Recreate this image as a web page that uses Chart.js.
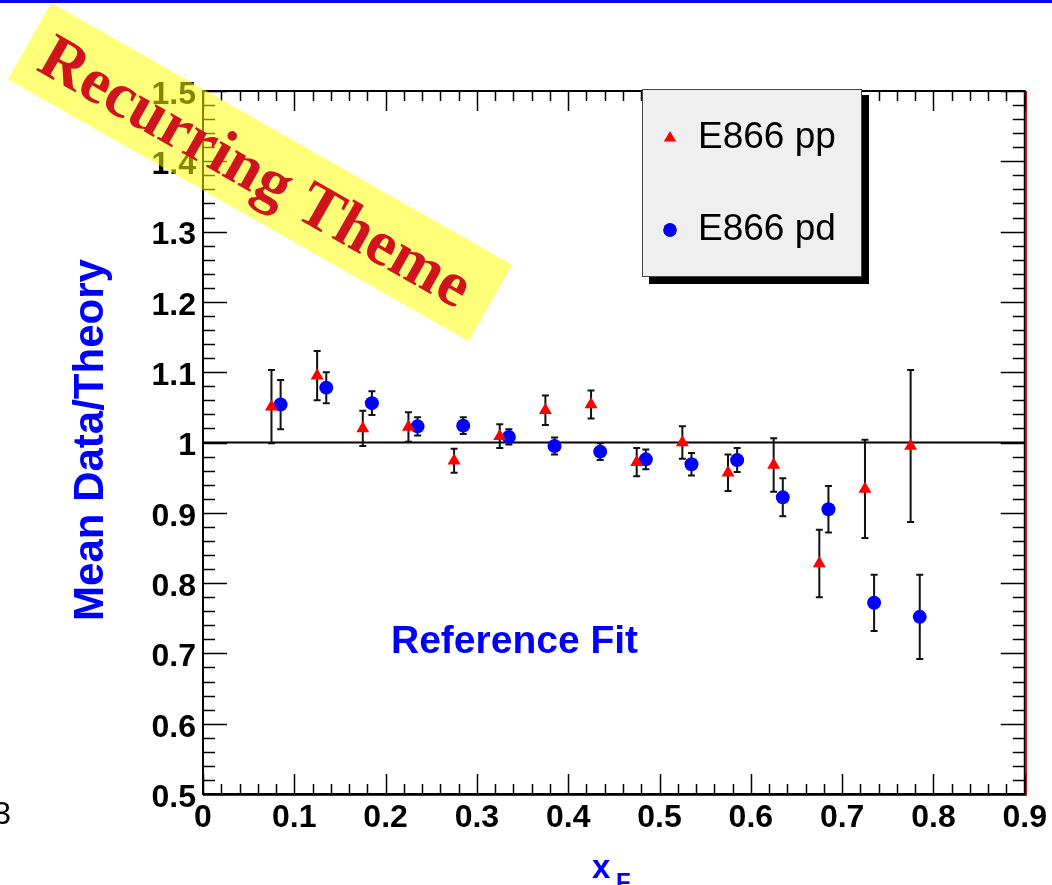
<!DOCTYPE html>
<html>
<head>
<meta charset="utf-8">
<title>Mean Data/Theory vs xF</title>
<script src="https://cdn.jsdelivr.net/npm/chart.js@4.4.1/dist/chart.umd.min.js"></script>
<style>
  html, body { margin: 0; padding: 0; background: #fff; }
  #wrap { width: 1052px; height: 885px; }
</style>
</head>
<body>
<div id="wrap"><canvas id="ratioChart" width="1052" height="885"></canvas></div>
<script>
// xF bin centres; the pd points sit a little to the right of the pp ones
const xfPP = [0.075, 0.125, 0.175, 0.225, 0.275, 0.325, 0.375, 0.425, 0.475, 0.525, 0.575, 0.625, 0.675, 0.725, 0.775];
const xfPD = [0.085, 0.135, 0.185, 0.235, 0.285, 0.335, 0.385, 0.435, 0.485, 0.535, 0.585, 0.635, 0.685, 0.735, 0.785];

// mean data / theory and their errors
const ratioPP = [1.051, 1.095, 1.020, 1.022, 0.974, 1.009, 1.046, 1.054, 0.972, 1.000, 0.957, 0.968, 0.828, 0.934, 0.995];
const errPP   = [0.052, 0.035, 0.025, 0.021, 0.017, 0.017, 0.021, 0.020, 0.020, 0.023, 0.026, 0.038, 0.048, 0.070, 0.108];
const ratioPD = [1.054, 1.078, 1.056, 1.023, 1.024, 1.008, 0.995, 0.987, 0.976, 0.969, 0.975, 0.922, 0.905, 0.772, 0.752];
const errPD   = [0.035, 0.022, 0.017, 0.013, 0.012, 0.011, 0.012, 0.012, 0.014, 0.016, 0.017, 0.027, 0.033, 0.040, 0.060];

const xTickLabels = ['0', '0.1', '0.2', '0.3', '0.4', '0.5', '0.6', '0.7', '0.8', '0.9'];
const yTickLabels = ['0.5', '0.6', '0.7', '0.8', '0.9', '1', '1.1', '1.2', '1.3', '1.4', '1.5'];

const SANS = '"Liberation Sans", Arial, Helvetica, sans-serif';
const SERIF = '"Liberation Serif", "Times New Roman", serif';
const BLUE = '#0000ff';

// page background, blue rule at the top, stray page number at the left
const pageDecor = {
  id: 'pageDecor',
  beforeDraw(chart) {
    const c = chart.ctx;
    c.save();
    c.fillStyle = '#fff';
    c.fillRect(0, 0, chart.width, chart.height);
    c.fillStyle = '#0a0ae0';
    c.fillRect(0, 0, chart.width, 3);
    c.fillStyle = '#000';
    c.font = '32px ' + SANS;
    c.textAlign = 'right';
    c.textBaseline = 'alphabetic';
    c.fillText('3', 11, 824);
    c.restore();
  }
};

// ROOT style frame: inward ticks on all four sides, reference line at 1
const frameTicks = {
  id: 'frameTicks',
  beforeDatasetsDraw(chart) {
    const c = chart.ctx;
    const { left, right, top, bottom } = chart.chartArea;
    const xs = chart.scales.x, ys = chart.scales.y;
    c.save();
    c.strokeStyle = '#000';
    c.lineWidth = 1.5;
    c.beginPath();
    for (let i = 0; i <= 45; i++) {
      const px = Math.round(xs.getPixelForValue(i * 0.02)) + 0.5;
      const len = i % 5 === 0 ? 20 : 10;
      c.moveTo(px, bottom); c.lineTo(px, bottom - len);
      c.moveTo(px, top); c.lineTo(px, top + len);
    }
    for (let i = 0; i <= 50; i++) {
      const py = Math.round(ys.getPixelForValue(0.5 + i * 0.02)) + 0.5;
      const len = i % 5 === 0 ? 24 : 12;
      c.moveTo(left, py); c.lineTo(left + len, py);
      c.moveTo(right, py); c.lineTo(right - len, py);
    }
    c.stroke();

    // frame
    c.lineWidth = 2;
    c.strokeRect(left, top, right - left, bottom - top);
    c.strokeStyle = '#c00000';
    c.lineWidth = 1.2;
    c.beginPath();
    c.moveTo(left, bottom + 1.5); c.lineTo(right + 1.5, bottom + 1.5);
    c.lineTo(right + 1.5, top);
    c.stroke();

    // line at data/theory = 1
    const y1 = ys.getPixelForValue(1);
    c.strokeStyle = '#000';
    c.lineWidth = 2;
    c.beginPath();
    c.moveTo(left, y1); c.lineTo(right, y1);
    c.stroke();

    // vertical error bars with small caps
    c.strokeStyle = '#111';
    c.lineWidth = 2;
    chart.data.datasets.forEach(ds => {
      ds.data.forEach((p, i) => {
        const px = xs.getPixelForValue(p.x);
        const hi = ys.getPixelForValue(p.y + ds.errors[i]);
        const lo = ys.getPixelForValue(p.y - ds.errors[i]);
        c.beginPath();
        c.moveTo(px, hi); c.lineTo(px, lo);
        c.moveTo(px - 3.5, hi); c.lineTo(px + 3.5, hi);
        c.moveTo(px - 3.5, lo); c.lineTo(px + 3.5, lo);
        c.stroke();
      });
    });
    c.restore();
  }
};

// legend box, axis titles, caption and the diagonal banner
const overlay = {
  id: 'overlay',
  afterDraw(chart) {
    const c = chart.ctx;
    c.save();

    // legend with drop shadow
    c.fillStyle = '#000';
    c.fillRect(649, 95, 220, 189);
    c.fillStyle = '#efefef';
    c.fillRect(642, 89, 220, 188);
    c.strokeStyle = '#444';
    c.lineWidth = 1;
    c.strokeRect(642.5, 89.5, 219, 187);
    const rows = [138, 230];
    chart.data.datasets.forEach((ds, i) => {
      Chart.helpers.drawPoint(c, {
        pointStyle: ds.pointStyle, radius: ds.pointRadius * 0.95, borderWidth: 0
      }, 670, rows[i]);
      c.fillStyle = ds.backgroundColor;
      c.fill();
      c.fillStyle = '#000';
      c.font = '37px ' + SANS;
      c.textAlign = 'left';
      c.textBaseline = 'alphabetic';
      c.fillText(ds.label, 698, rows[i] + 10);
    });

    // axis titles
    c.fillStyle = BLUE;
    c.save();
    c.translate(103, 440);
    c.rotate(-Math.PI / 2);
    c.font = 'bold 42px ' + SANS;
    c.textAlign = 'center';
    c.textBaseline = 'alphabetic';
    c.fillText('Mean Data/Theory', 0, 0);
    c.restore();

    c.font = 'bold 33px ' + SANS;
    c.textAlign = 'left';
    c.fillText('x', 592, 878);
    c.font = 'bold 24px ' + SANS;
    c.fillText('F', 616, 890);

    c.font = 'bold 39px ' + SANS;
    c.fillText('Reference Fit', 391, 653);

    // banner
    c.save();
    c.translate(260, 172);
    c.rotate(29.6 * Math.PI / 180);
    c.fillStyle = 'rgba(255, 255, 0, 0.52)';
    c.fillRect(-265, -44, 530, 88);
    c.fillStyle = '#d0141e';
    c.font = 'bold 64px ' + SERIF;
    c.textAlign = 'center';
    c.textBaseline = 'alphabetic';
    c.fillText('Recurring Theme', -4, 22);
    c.restore();

    c.restore();
  }
};

const tickFont = { family: SANS, size: 32, weight: 'bold' };

new Chart(document.getElementById('ratioChart').getContext('2d'), {
  type: 'scatter',
  data: {
    datasets: [
      {
        label: 'E866 pp',
        data: xfPP.map((x, i) => ({ x: x, y: ratioPP[i] })),
        errors: errPP,
        pointStyle: 'triangle',
        pointRadius: 7.5,
        backgroundColor: '#ff0000',
        borderWidth: 0
      },
      {
        label: 'E866 pd',
        data: xfPD.map((x, i) => ({ x: x, y: ratioPD[i] })),
        errors: errPD,
        pointStyle: 'circle',
        pointRadius: 7,
        backgroundColor: '#0000ff',
        borderWidth: 0
      }
    ]
  },
  options: {
    responsive: false,
    animation: false,
    events: [],
    layout: { padding: { top: 91, right: 25, left: 0, bottom: 0 } },
    plugins: {
      legend: { display: false },
      tooltip: { enabled: false }
    },
    scales: {
      x: {
        type: 'linear',
        min: 0,
        max: 0.9,
        afterFit: s => { s.height = 91; },
        grid: { display: false, drawTicks: false },
        border: { display: false },
        ticks: {
          stepSize: 0.1,
          autoSkip: false,
          maxRotation: 0,
          padding: 5,
          color: '#000',
          font: tickFont,
          callback: (v, i) => xTickLabels[i]
        }
      },
      y: {
        type: 'linear',
        min: 0.5,
        max: 1.5,
        afterFit: s => { s.width = 203; },
        grid: { display: false, drawTicks: false },
        border: { display: false },
        ticks: {
          stepSize: 0.1,
          autoSkip: false,
          padding: 7,
          labelOffset: 4,
          color: '#000',
          font: tickFont,
          callback: (v, i) => yTickLabels[i]
        }
      }
    }
  },
  plugins: [pageDecor, frameTicks, overlay]
});
</script>
</body>
</html>
